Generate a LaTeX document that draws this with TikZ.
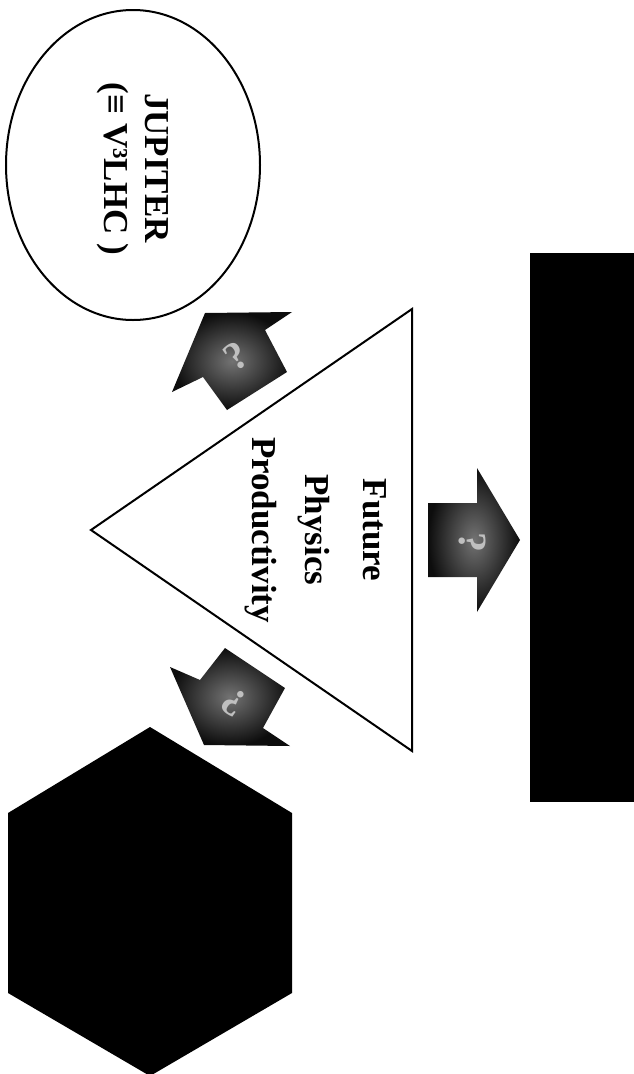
\documentclass[tikz,border=0pt]{standalone}
\usepackage{fontspec}
\setmainfont{Liberation Serif}
\begin{document}
\begin{tikzpicture}[x=1pt,y=-1pt,
  outline/.style={draw=black,line width=2pt,line join=miter},
  solidshape/.style={fill=black,draw=none},
  qarrow/.style={inner color=black!55,outer color=black!95},
  lbl/.style={font=\bfseries\fontsize{35}{42}\selectfont,rotate=-90,anchor=base,inner sep=0pt},
  qmark/.style={font=\bfseries\fontsize{40}{40}\selectfont,text=black!25,inner sep=0pt}]
\useasboundingbox (0,0) rectangle (634,1074);
% ellipse
\draw[outline] (133,165) ellipse [x radius=127pt, y radius=155pt];
\node[lbl] (jup1) at (145,168) {JUPITER};
\node[lbl] (jup2) at (104,169) {(≡ V³LHC )};
% triangle
\draw[outline] (412,309) -- (412,751) -- (91,530) -- cycle;
\node[lbl] (fut) at (363,530) {Future};
\node[lbl] (phy) at (305,530) {Physics};
\node[lbl] (pro) at (252,530) {Productivity};
% rectangle
\fill[solidshape] (530,253) rectangle (634,802);
% hexagon
\fill[solidshape] (150,727) -- (292,813) -- (292,993) -- (150,1076) -- (8,993) -- (8,813) -- cycle;
% arrow to rectangle
\shade[qarrow] (428,503) -- (477,503) -- (477,468) -- (520,540) -- (477,612) -- (477,577) -- (428,577) -- cycle;
\node[qmark,rotate=-90] (q1) at (472,542) {?};
% arrow to ellipse
\shade[qarrow] (205,313) -- (292,312) -- (265,330) -- (287,372) -- (227,410) -- (203,377) -- (172,392) -- cycle;
\node[qmark,rotate=35] (q2) at (236,356) {?};
% arrow to hexagon
\shade[qarrow] (204,745) -- (290,746) -- (263,728) -- (285,688) -- (225,648) -- (200,680) -- (170,667) -- cycle;
\node[qmark,rotate=145] (q3) at (234,702) {?};
\end{tikzpicture}
\end{document}
